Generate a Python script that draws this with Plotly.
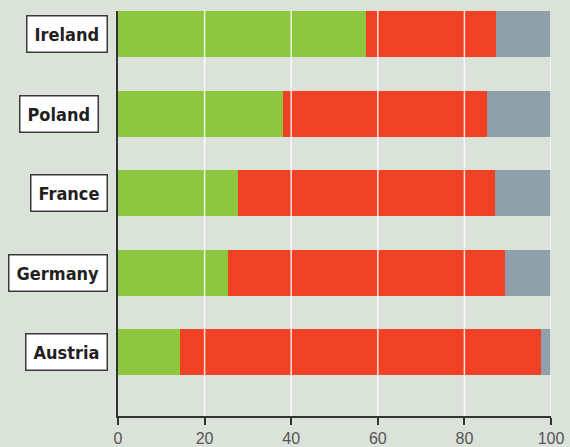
import plotly.graph_objects as go

# categories, top to bottom
countries = ["Ireland", "Poland", "France", "Germany", "Austria"]

# stacked shares, %
green_share = [57.3, 38.1, 27.7, 25.4, 14.3]
red_share = [29.9, 47.1, 59.4, 64.0, 83.4]
grey_share = [12.8, 14.8, 12.9, 10.6, 2.3]

x_ticks = [0, 20, 40, 60, 80, 100]

BG = "#dbe2da"
COLORS = ["#8dc63f", "#f04124", "#8fa0ab"]
# Poland's box sits a bit further left in the original
label_shift = [-10, -19, -10, -10, -10]

fig = go.Figure()
for name, vals, col in zip(["green", "red", "grey"],
                           [green_share, red_share, grey_share], COLORS):
    fig.add_trace(go.Bar(
        x=vals, y=countries, orientation="h", name=name,
        marker=dict(color=col, line=dict(width=0)),
    ))

# white gridlines drawn over the bars
for t in x_ticks[1:]:
    fig.add_shape(type="line", xref="x", yref="paper", x0=t, x1=t, y0=0, y1=1,
                  line=dict(color="rgba(255,255,255,0.85)", width=1.5), layer="above")

for c, dx in zip(countries, label_shift):
    fig.add_annotation(
        x=0, y=c, xref="x", yref="y", xanchor="right", yanchor="middle",
        xshift=dx, showarrow=False, text=c,
        font=dict(family="DejaVu Sans Condensed, DejaVu Sans", size=18,
                  color="#231f20", weight="bold"),
        bgcolor="white", bordercolor="#3a3a3a", borderwidth=1.5, borderpad=7,
    )

fig.update_layout(
    width=570, height=447,
    margin=dict(l=118, r=19, t=11, b=31),
    paper_bgcolor=BG, plot_bgcolor=BG,
    barmode="stack", bargap=0.421,
    showlegend=False,
    xaxis=dict(range=[0, 100], tickvals=x_ticks, showgrid=False, zeroline=False,
               automargin=False,
               showline=True, linecolor="#333333", linewidth=1.5,
               ticks="outside", ticklen=7, tickcolor="#333333", tickwidth=1.5,
               tickfont=dict(family="Liberation Sans", size=16, color="#555555")),
    yaxis=dict(range=[4.80, -0.29], showticklabels=False, showgrid=False,
               automargin=False,
               zeroline=False, showline=True, linecolor="#333333", linewidth=1.5,
               ticks=""),
)

# drop the default page margin so the 570x447 figure fills the window
fig.write_html("out.html", config={"displayModeBar": False},
               post_script="document.body.style.margin='0';"
                           "document.body.style.overflow='hidden';")
